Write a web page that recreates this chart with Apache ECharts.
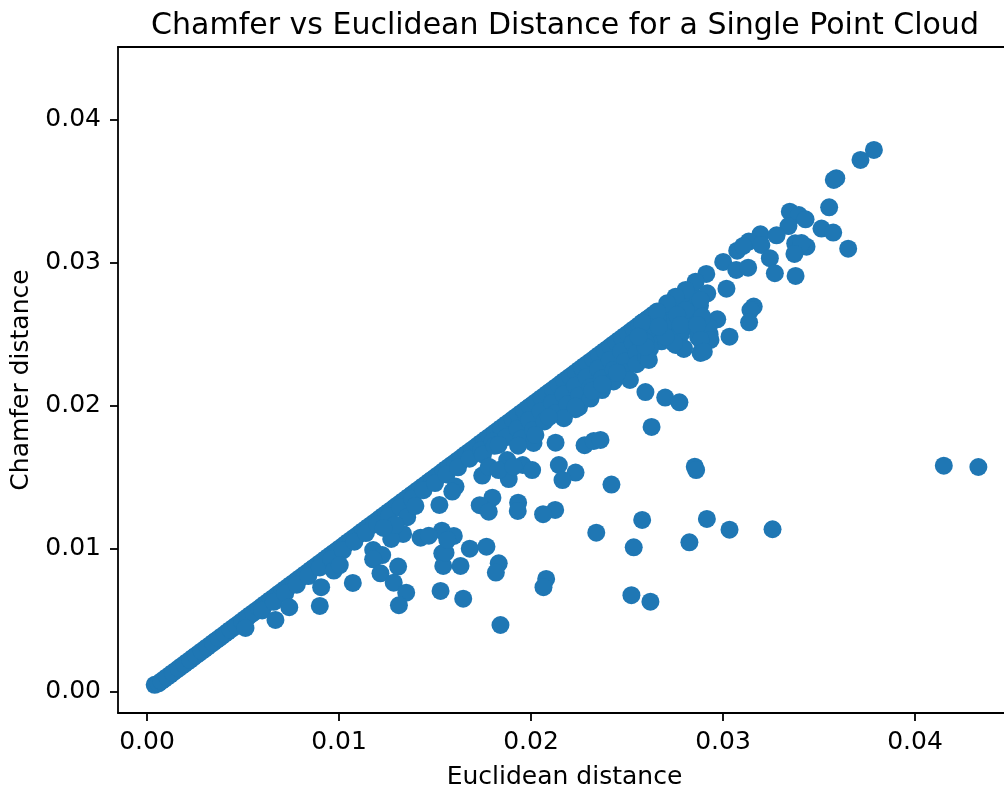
<!DOCTYPE html>
<html>
<head>
<meta charset="utf-8">
<style>html,body{margin:0;padding:0;background:#fff}#c{width:1004px;height:788px}</style>
<script src="https://cdn.jsdelivr.net/npm/echarts@6/dist/echarts.min.js"></script>
</head>
<body>
<div id="c"></div>
<script>
const chartTitle = 'Chamfer vs Euclidean Distance for a Single Point Cloud';
const xAxisName = 'Euclidean distance';
const yAxisName = 'Chamfer distance';
const tickValues = [0, 0.01, 0.02, 0.03, 0.04];

// [euclidean, chamfer]
const diagonalPoints = [
[.0004,.0005],[.0006,.0006],[.0009,.0009],[.0012,.0012],[.0015,.0015],[.0018,.0018],[.0021,.0021],[.0024,.0024],[.0027,.0027],[.0030,.0030],
[.0033,.0033],[.0036,.0036],[.0039,.0039],[.0042,.0042],[.0045,.0045],[.0048,.0048],[.0051,.0051],[.0054,.0054],[.0057,.0057],[.0060,.0060],
[.0063,.0063],[.0066,.0066],[.0069,.0069],[.0072,.0072],[.0075,.0075],[.0078,.0078],[.0081,.0081],[.0084,.0084],[.0087,.0087],[.0090,.0090],
[.0093,.0093],[.0096,.0096],[.0099,.0099],[.0102,.0102],[.0105,.0105],[.0108,.0108],[.0111,.0111],[.0114,.0114],[.0117,.0117],[.0120,.0120],
[.0123,.0123],[.0126,.0126],[.0129,.0129],[.0132,.0132],[.0135,.0135],[.0138,.0138],[.0141,.0141],[.0144,.0144],[.0147,.0147],[.0150,.0150],
[.0153,.0153],[.0156,.0156],[.0159,.0159],[.0162,.0162],[.0165,.0165],[.0168,.0168],[.0171,.0171],[.0174,.0174],[.0177,.0177],[.0180,.0180],
[.0183,.0183],[.0186,.0186],[.0189,.0189],[.0192,.0192],[.0195,.0195],[.0198,.0198],[.0201,.0201],[.0204,.0204],[.0207,.0207],[.0210,.0210],
[.0213,.0213],[.0216,.0216],[.0219,.0219],[.0222,.0222],[.0225,.0225],[.0228,.0228],[.0231,.0231],[.0234,.0234],[.0237,.0237],[.0240,.0240],
[.0243,.0243],[.0246,.0246],[.0249,.0249],[.0252,.0252],[.0255,.0255],[.0258,.0258],[.0261,.0261],[.0264,.0264]
];
const diagonalMidPoints = [
[.00075,.00075],[.00105,.00105],[.00135,.00135],[.00165,.00165],[.00195,.00195],[.00225,.00225],[.00255,.00255],[.00285,.00285],[.00315,.00315],[.00345,.00345],
[.00375,.00375],[.00405,.00405],[.00435,.00435],[.00465,.00465],[.00495,.00495],[.00525,.00525],[.00555,.00555],[.00585,.00585],[.00615,.00615],[.00645,.00645],
[.00675,.00675],[.00705,.00705],[.00735,.00735],[.00765,.00765],[.00795,.00795],[.00825,.00825],[.00855,.00855],[.00885,.00885],[.00915,.00915],[.00945,.00945],
[.00975,.00975],[.01005,.01005],[.01035,.01035],[.01065,.01065],[.01095,.01095],[.01125,.01125],[.01155,.01155],[.01185,.01185],[.01215,.01215],[.01245,.01245],
[.01275,.01275],[.01305,.01305],[.01335,.01335],[.01365,.01365],[.01395,.01395],[.01425,.01425],[.01455,.01455],[.01485,.01485],[.01515,.01515],[.01545,.01545],
[.01575,.01575],[.01605,.01605],[.01635,.01635],[.01665,.01665],[.01695,.01695],[.01725,.01725],[.01755,.01755],[.01785,.01785],[.01815,.01815],[.01845,.01845],
[.01875,.01875],[.01905,.01905],[.01935,.01935],[.01965,.01965],[.01995,.01995],[.02025,.02025],[.02055,.02055],[.02085,.02085],[.02115,.02115],[.02145,.02145],
[.02175,.02175],[.02205,.02205],[.02235,.02235],[.02265,.02265],[.02295,.02295],[.02325,.02325],[.02355,.02355],[.02385,.02385],[.02415,.02415],[.02445,.02445],
[.02475,.02475],[.02505,.02505],[.02535,.02535],[.02565,.02565],[.02595,.02595],[.02625,.02625]
];
const nearDiagonalPoints = [
[.0060,.0057],[.0066,.0063],[.0072,.0069],[.0078,.0075],[.0084,.0081],[.0090,.0087],[.0096,.0093],[.0102,.0099],[.0108,.0105],[.0114,.0111],
[.0120,.0117],[.0126,.0123],[.0132,.0129],[.0138,.0135],[.0144,.0141],[.0150,.0146],[.0156,.0152],[.0162,.0157],[.0168,.0163],[.0174,.0169],[.0180,.0175]
];
const innerBandPoints = [
[.0175,.0166],[.0181,.0172],[.0187,.0178],[.0193,.0184],[.0199,.0190],[.0205,.0196],[.0211,.0202],[.0217,.0208],[.0223,.0214],[.0229,.0220],[.0235,.0226],[.0241,.0232],[.0247,.0238],[.0253,.0244],[.0259,.0250],
[.0195,.0177],[.0201,.0183],[.0207,.0189],[.0213,.0195],[.0219,.0201],[.0225,.0207],[.0231,.0213],[.0237,.0219],[.0243,.0225],[.0249,.0231],[.0255,.0237],[.0261,.0243],
[.0225,.0199],[.0231,.0205],[.0237,.0211],[.0243,.0217],[.0249,.0223],[.0255,.0229],[.0260,.0234]
];
const upperClusterPoints = [
[.0270,.0265],[.0275,.0268],[.0280,.0272],[.0285,.0276],[.0275,.0258],[.0283,.0262],[.0288,.0270],[.0272,.0255],[.0278,.0250],[.0285,.0255],
[.0265,.0250],[.0268,.0245],[.0262,.0240],[.0270,.0258],[.0290,.0255],[.0287,.0248],[.0293,.0250],[.0266,.0262],[.0272,.0270],[.0278,.0276]
];
const lowerPoints = [
[.00513,.00447],[.00669,.00503],[.00741,.00592],[.00900,.00601],[.00907,.00732],[.00973,.00848],[.01004,.00887],[.01072,.00762],
[.01178,.00992],[.01225,.00957],[.01178,.00927],[.01216,.00829],[.01308,.00876],[.01285,.00764],[.01350,.00694],[.01312,.00606],
[.01529,.00706],[.01538,.00969],[.01543,.00881],[.01536,.01127],[.01425,.01078],[.01468,.01092],[.01334,.01104],[.01272,.01069],
[.01355,.01221],[.01398,.01300],[.01523,.01307],[.01294,.01167],[.01232,.01146],[.01647,.00652],[.01633,.00881],[.01555,.00973],
[.01681,.01001],[.01768,.01015],[.01832,.00899],[.01817,.00834],[.01841,.00468],[.02079,.00790],[.02065,.00732],[.02523,.00676],
[.02622,.00631],[.02535,.01011],[.02579,.01202],[.02340,.01113],[.02825,.01046],[.02419,.01449],[.02853,.01574],[.02860,.01551],
[.02628,.01852],[.02596,.02096],[.02699,.02057],[.02773,.02024],[.02128,.01742],[.02279,.01724],[.02327,.01754],[.02362,.01761],
[.02145,.01586],[.02232,.01533],[.02164,.01481],[.02126,.01272],[.02063,.01242],[.01933,.01323],[.01931,.01265],[.01799,.01358],
[.01733,.01305],[.01780,.01260],[.01607,.01435],[.01590,.01400],[.01746,.01512],[.01780,.01574],[.01876,.01621],[.01884,.01488],
[.01831,.01551],[.01957,.01586],[.02006,.01551],[.01909,.01574],[.02013,.01740],[.02023,.01796],[.01933,.01721],[.01831,.01726],
[.01598,.01090],[.01564,.01062],[.02916,.01209],[.03034,.01134],[.03258,.01137],[.04150,.01581],[.04330,.01572]
];
const upperPoints = [
[.02515,.02180],[.02614,.02320],[.02796,.02402],[.02753,.02425],[.02449,.02231],[.02374,.02145],[.02319,.02105],[.02232,.01976],
[.02171,.01913],[.02093,.01920],[.02596,.02448],[.02883,.02369],[.02779,.02530],[.03786,.03788],[.03716,.03718],[.03590,.03590],
[.03577,.03578],[.03553,.03387],[.03348,.03356],[.03395,.03333],[.03430,.03303],[.03341,.03256],[.03513,.03238],[.03574,.03210],
[.03652,.03098],[.03376,.03135],[.03435,.03112],[.03409,.03137],[.03372,.03061],[.03378,.02907],[.03195,.03198],[.03279,.03191],
[.03134,.03147],[.03074,.03084],[.03105,.03117],[.03200,.03124],[.03244,.03031],[.03270,.02926],[.03001,.03005],[.03069,.02949],
[.03131,.02965],[.03018,.02818],[.02913,.02921],[.02857,.02867],[.02805,.02809],[.02753,.02762],[.02918,.02786],[.02883,.02739],
[.02709,.02716],[.02657,.02658],[.02579,.02581],[.02805,.02669],[.02761,.02634],[.02779,.02565],[.03160,.02693],[.03143,.02669],
[.03136,.02583],[.03034,.02483],[.02970,.02604],[.02926,.02553],[.02892,.02623],[.02866,.02565],[.02935,.02460],[.02883,.02460],
[.02900,.02378],[.02796,.02397],[.02744,.02437],[.02701,.02483],[.02666,.02553],[.02596,.02413],[.02560,.02483],[.02371,.02152],[.02232,.01994]
];

const font = 'DejaVu Sans';
const black = '#000';
const chart = echarts.init(document.getElementById('c'), null, {renderer: 'canvas'});
chart.setOption({
  animation: false,
  backgroundColor: '#fff',
  title: {
    text: chartTitle, left: 560, top: 6, textAlign: 'center',
    textStyle: {fontFamily: font, fontSize: 30, fontWeight: 'normal', color: black}
  },
  grid: {left: 118, top: 47, bottom: 75, right: -7, containLabel: false, outerBoundsMode: 'none'},
  xAxis: [{
    type: 'value', min: -0.00151, max: 0.045, position: 'bottom',
    name: xAxisName, nameLocation: 'middle', nameGap: 52,
    nameTextStyle: {fontFamily: font, fontSize: 25, color: black},
    axisLine: {show: true, onZero: false, lineStyle: {color: black, width: 1.8}},
    axisTick: {show: true, length: 8, lineStyle: {color: black, width: 1.8}, customValues: tickValues},
    axisLabel: {show: true, margin: 17, fontFamily: font, fontSize: 25, color: black, customValues: tickValues,
      formatter: v => v.toFixed(2)},
    splitLine: {show: false}
  }, {
    type: 'value', min: -0.00151, max: 0.045, position: 'top',
    axisLine: {show: true, onZero: false, lineStyle: {color: black, width: 1.8}},
    axisTick: {show: false}, axisLabel: {show: false}, splitLine: {show: false}
  }],
  yAxis: {
    type: 'value', min: -0.00147, max: 0.04507, position: 'left',
    name: yAxisName, nameLocation: 'middle', nameGap: 79, nameRotate: 90,
    nameTextStyle: {fontFamily: font, fontSize: 25, color: black},
    axisLine: {show: true, onZero: false, lineStyle: {color: black, width: 1.8}},
    axisTick: {show: true, length: 8, lineStyle: {color: black, width: 1.8}, customValues: tickValues},
    axisLabel: {show: true, margin: 17, padding: [3, 0, 0, 0], fontFamily: font, fontSize: 25, color: black, customValues: tickValues,
      formatter: v => v.toFixed(2)},
    splitLine: {show: false}
  },
  series: [{
    type: 'scatter', xAxisIndex: 0,
    data: [...diagonalPoints, ...diagonalMidPoints, ...nearDiagonalPoints, ...innerBandPoints, ...upperClusterPoints, ...lowerPoints, ...upperPoints],
    symbol: 'circle', symbolSize: 18, large: false,
    itemStyle: {color: '#1f77b4', opacity: 1}
  }]
});
</script>
</body>
</html>
